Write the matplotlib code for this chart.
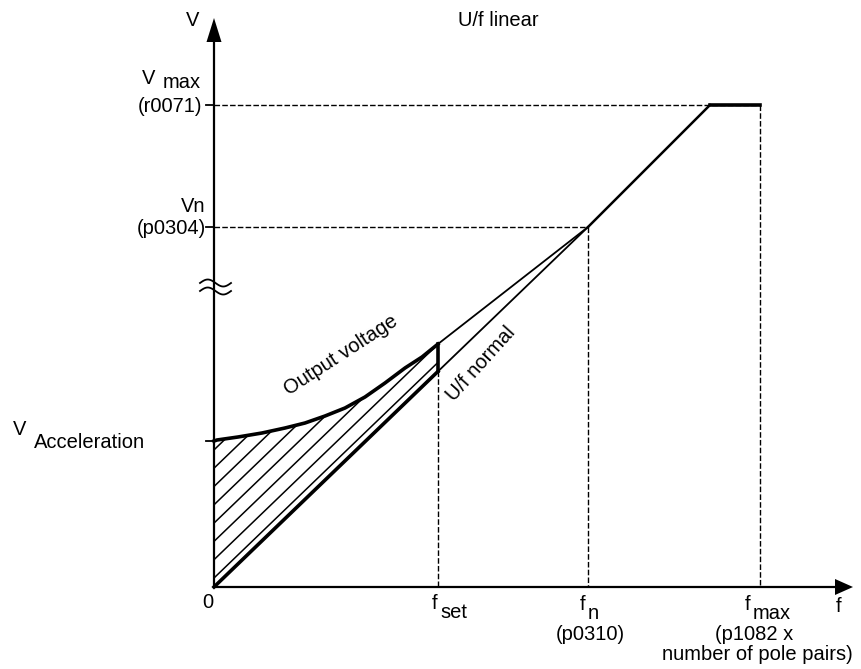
import numpy as np
import matplotlib.pyplot as plt
from matplotlib.patches import Polygon

plt.rcParams['font.family'] = ['Liberation Sans', 'DejaVu Sans']

# characteristic points (drawing units, origin at f=0, V=0)
f_set = 224
f_n = 374
f_plateau = 496
f_max = 546
v_accel = 146
v_n = 360
v_max = 482

# output voltage (boost) curve between 0 and f_set
boost_f = [0, 3, 24, 48, 71, 91, 111, 131, 151, 171, 191, 208, 224]
boost_v = [146, 147, 150, 154, 159, 164, 171, 179, 190, 204, 219, 230, 243]

# characteristic after the boost region
ramp_f = [f_n, f_plateau, f_max]
ramp_v = [v_n, v_max, v_max]

slope = v_n / f_n  # U/f normal


def main():
    fig = plt.figure(figsize=(8.61, 6.69), dpi=100)
    ax = fig.add_axes([0, 0, 1, 1])
    ax.set_xlim(-214, 861 - 214)
    ax.set_ylim(-(669 - 587), 587)
    ax.axis('off')

    # axes with arrow heads
    ax.plot([0, 0], [0, 545], color='black', lw=1.6)
    ax.plot([0, 625], [0, 0], color='black', lw=1.6)
    ax.fill([-7.5, 7.5, 0], [545, 545, 569], color='black', lw=0)
    ax.fill([621, 621, 639], [-8, 8, 0], color='black', lw=0)

    # axis break on V
    t = np.linspace(-14, 17, 60)
    for dy in (304, 296):
        ax.plot(t, dy + 3.5 * np.sin((t + 14) / 31 * 2 * np.pi), color='black', lw=1.3)

    # ticks on V axis
    for v in (v_max, v_n, v_accel):
        ax.plot([-8, 0], [v, v], color='black', lw=1.3)

    # dashed guide lines
    dash = dict(color='black', lw=1.0, dashes=(4, 1.6))
    ax.plot([0, f_max], [v_max, v_max], **dash)
    ax.plot([f_max, f_max], [v_max, 0], **dash)
    ax.plot([0, f_n], [v_n, v_n], **dash)
    ax.plot([f_n, f_n], [v_n, 0], **dash)
    ax.plot([f_set, f_set], [slope * f_set, 0], **dash)

    # hatched boost region
    region = list(zip(boost_f, boost_v)) + [(f_set, slope * f_set), (0, 0)]
    patch = Polygon(region, closed=True, facecolor='none', edgecolor='none')
    ax.add_patch(patch)
    xs = np.array([-50, f_set + 50])
    for c in np.arange(9, 160, 18.3):
        ln, = ax.plot(xs, slope * xs + c, color='black', lw=1.1)
        ln.set_clip_path(patch)

    # boost curve and U/f normal in boost region (thick)
    ax.plot(boost_f, boost_v, color='black', lw=2.6, solid_joinstyle='round')
    ax.plot([0, f_set], [0, slope * f_set], color='black', lw=2.6)
    ax.plot([f_set, f_set], [slope * f_set, boost_v[-1]], color='black', lw=2.6)

    # lines converging at the rated point
    ax.plot([f_set, f_n], [boost_v[-1], v_n], color='black', lw=1.3)
    ax.plot([f_set, f_n], [slope * f_set, v_n], color='black', lw=1.3)
    ax.plot(ramp_f[:2], ramp_v[:2], color='black', lw=1.8)
    ax.plot(ramp_f[1:], ramp_v[1:], color='black', lw=2.6)

    fs = 14.5
    ax.text(-21, 567, 'V', fontsize=fs, ha='center', va='center')
    ax.text(284, 567, 'U/f linear', fontsize=fs, ha='center', va='center')

    # V axis labels
    ax.text(-72, 587 - 84, 'V', fontsize=fs, ha='left', va='baseline')
    ax.text(-51, 587 - 88, 'max', fontsize=fs, ha='left', va='baseline')
    ax.text(-12, v_max - 2, '(r0071)', fontsize=fs, ha='right', va='center')
    ax.text(-9, 587 - 212, 'Vn', fontsize=fs, ha='right', va='baseline')
    ax.text(-8, v_n - 1, '(p0304)', fontsize=fs, ha='right', va='center')
    ax.text(-201, 587 - 435, 'V', fontsize=fs, ha='left', va='baseline')
    ax.text(-69, 587 - 448, 'Acceleration', fontsize=fs, ha='right', va='baseline')

    # f axis labels
    ax.text(-6, -15, '0', fontsize=fs, ha='center', va='center')
    ax.text(f_set - 6, 587 - 609, 'f', fontsize=fs, ha='left', va='baseline')
    ax.text(f_set + 2, 587 - 618, 'set', fontsize=fs, ha='left', va='baseline')
    ax.text(f_n - 8, 587 - 610, 'f', fontsize=fs, ha='left', va='baseline')
    ax.text(f_n, 587 - 619, 'n', fontsize=fs, ha='left', va='baseline')
    ax.text(f_n + 2, -47, '(p0310)', fontsize=fs, ha='center', va='center')
    ax.text(f_max - 15, 587 - 610, 'f', fontsize=fs, ha='left', va='baseline')
    ax.text(f_max - 7, 587 - 619, 'max', fontsize=fs, ha='left', va='baseline')
    ax.text(f_max - 6, -47, '(p1082 x', fontsize=fs, ha='center', va='center')
    ax.text(f_max - 3, -67, 'number of pole pairs)', fontsize=fs, ha='center', va='center')
    ax.text(625, -19, 'f', fontsize=fs, ha='center', va='center')

    # curve annotations
    ax.text(127, 232, 'Output voltage', fontsize=fs, rotation=33,
            ha='center', va='center', rotation_mode='anchor')
    ax.text(267, 223, 'U/f normal', fontsize=fs, rotation=48,
            ha='center', va='center', rotation_mode='anchor')

    fig.savefig('out.png', dpi=100, facecolor='white')


if __name__ == "__main__":
    main()
